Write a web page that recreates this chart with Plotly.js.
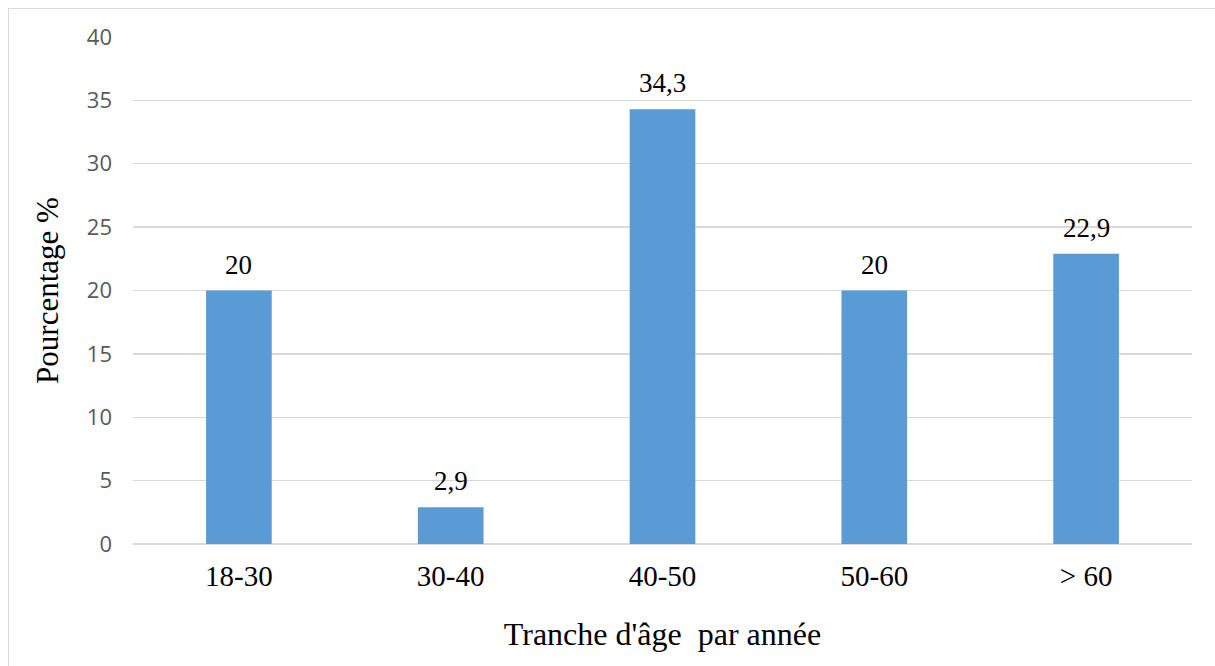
<!DOCTYPE html>
<html>
<head>
<meta charset="utf-8">
<script src="https://cdn.plot.ly/plotly-3.0.1.min.js"></script>
<style>
  html, body { margin: 0; padding: 0; background: #ffffff; }
  #wrap { position: relative; width: 1215px; height: 666px; overflow: hidden; }
  #chart { position: absolute; left: 0; top: 0; width: 1215px; height: 666px; }
  #frame { position: absolute; left: 8px; top: 8px; width: 1220px; height: 670px;
           border-top: 1.5px solid #d9d9d9; border-left: 1.5px solid #d9d9d9; pointer-events: none; }
</style>
</head>
<body>
<div id="wrap">
  <div id="chart"></div>
  <div id="frame"></div>
</div>
<script>
// Age brackets and share of respondents (%)
const categories = ['18-30', '30-40', '40-50', '50-60', '> 60'];
const percentages = [20, 2.9, 34.3, 20, 22.9];
const yTicks = [0, 5, 10, 15, 20, 25, 30, 35, 40];

const serif = 'Liberation Serif, Times New Roman, serif';
const sans = 'Open Sans, Calibri, sans-serif';

const fmt = v => String(v).replace('.', ',');

const trace = {
  type: 'bar',
  x: categories,
  y: percentages,
  marker: { color: '#5b9bd5' },
  hoverinfo: 'skip'
};

const annotations = categories.map((c, i) => ({
  x: c,
  y: percentages[i],
  xref: 'x',
  yref: 'y',
  text: fmt(percentages[i]),
  showarrow: false,
  yanchor: 'bottom',
  yshift: 9,
  font: { family: serif, size: 27, color: '#000000' }
}));

const layout = {
  width: 1215,
  height: 666,
  margin: { l: 133, r: 23, t: 37, b: 122 },
  paper_bgcolor: 'rgba(0,0,0,0)',
  plot_bgcolor: '#ffffff',
  bargap: 0.69,
  showlegend: false,
  separators: ', ',
  xaxis: {
    type: 'category',
    showgrid: false,
    showline: false,
    zeroline: false,
    ticks: '',
    ticklabelstandoff: 12,
    tickfont: { family: serif, size: 29, color: '#000000' },
    title: {
      text: "Tranche d'âge  par année",
      font: { family: serif, size: 32, color: '#000000' },
      standoff: 31
    }
  },
  yaxis: {
    range: [0, 40],
    tickvals: yTicks,
    ticktext: yTicks.map(String),
    showgrid: true,
    gridcolor: '#d9d9d9',
    gridwidth: 1.3,
    zeroline: true,
    zerolinecolor: '#d9d9d9',
    zerolinewidth: 1.5,
    showline: false,
    ticks: '',
    ticklabelstandoff: 20,
    tickfont: { family: sans, size: 22, color: '#595959' },
    title: {
      text: 'Pourcentage %',
      font: { family: serif, size: 31, color: '#000000' },
      standoff: 18
    }
  },
  annotations: annotations
};

Plotly.newPlot('chart', [trace], layout, { displayModeBar: false, staticPlot: true });
</script>
</body>
</html>
